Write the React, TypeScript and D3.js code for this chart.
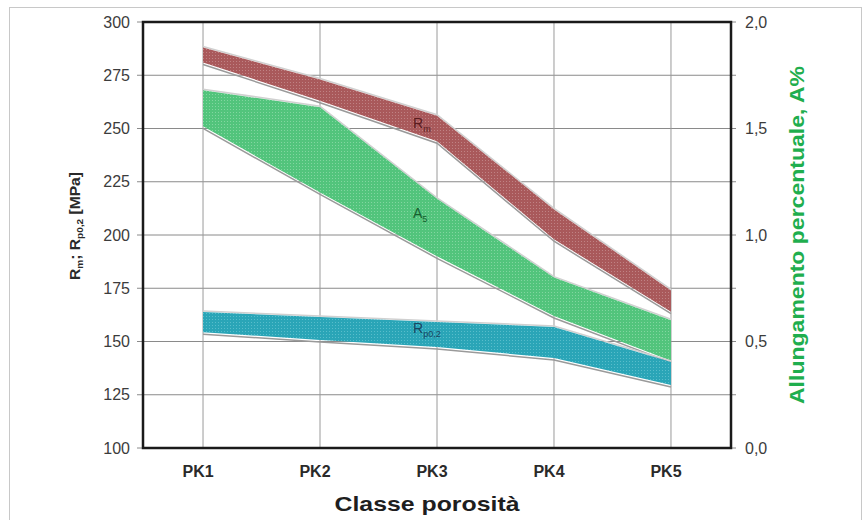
import { useEffect, useRef } from 'react'
import * as d3 from 'd3'

// porosity classes
const categories = ['PK1', 'PK2', 'PK3', 'PK4', 'PK5']

// Rm band [MPa]
const rmUpper = [288, 273, 256, 212, 174]
const rmLower = [281, 263, 244, 198, 164]

// Rp0,2 band [MPa]
const rpUpper = [163.8, 161.5, 159.2, 156.8, 140.4]
const rpLower = [154.4, 150.7, 147.4, 142.3, 129.6]

// A5 band [%] (right axis)
const aUpper = [1.68, 1.6, 1.17, 0.8, 0.6]
const aLower = [1.51, 1.2, 0.9, 0.62, 0.41]

const leftTicks = [100, 125, 150, 175, 200, 225, 250, 275, 300]
const rightTicks = [0, 0.5, 1.0, 1.5, 2.0]

const W = 863
const H = 520

const App = () => {
  const ref = useRef<SVGSVGElement>(null)

  useEffect(() => {
    if (!ref.current) return
    const root = d3.select(ref.current)
    root.selectAll('*').remove()

    const margin = { top: 22, right: 132, bottom: 72, left: 143 }
    const width = W - margin.left - margin.right
    const height = H - margin.top - margin.bottom

    // outer frame
    root.append('rect')
      .attr('x', 9.5).attr('y', 7.5)
      .attr('width', W - 11).attr('height', H)
      .attr('fill', 'white')
      .attr('stroke', '#c8c8c8')

    // dotted textures
    const defs = root.append('defs')
    const makePattern = (id: string, base: string, dot: string) => {
      const p = defs.append('pattern')
        .attr('id', id)
        .attr('width', 3).attr('height', 3)
        .attr('patternUnits', 'userSpaceOnUse')
      p.append('rect').attr('width', 3).attr('height', 3).attr('fill', base)
      p.append('rect').attr('width', 1).attr('height', 1).attr('fill', dot)
    }
    makePattern('pat-rm', '#a9595b', '#c08284')
    makePattern('pat-a', '#52c47c', '#82d6a0')
    makePattern('pat-rp', '#2aa5b7', '#58bdcb')

    const g = root.append('g')
      .attr('transform', `translate(${margin.left},${margin.top})`)

    const x = d3.scalePoint()
      .domain(categories)
      .range([0, width])
      .padding(0.513)

    const y = d3.scaleLinear().domain([100, 300]).range([height, 0])
    const yA = d3.scaleLinear().domain([0, 2]).range([height, 0])

    // horizontal grid + tick marks on both sides
    g.append('g')
      .selectAll('line')
      .data(leftTicks)
      .enter()
      .append('line')
      .attr('x1', -6).attr('x2', width + 5)
      .attr('y1', d => y(d)).attr('y2', d => y(d))
      .attr('stroke', '#8a8a8a')
      .attr('stroke-width', 1)

    // vertical grid
    g.append('g')
      .selectAll('line')
      .data(categories)
      .enter()
      .append('line')
      .attr('x1', d => x(d)!).attr('x2', d => x(d)!)
      .attr('y1', 0).attr('y2', height)
      .attr('stroke', '#9a9a9a')
      .attr('stroke-width', 1)

    const drawBand = (upper: number[], lower: number[], scale: d3.ScaleLinear<number, number>, pat: string) => {
      const pts = categories.map((c, i) => ({ c, hi: upper[i], lo: lower[i] }))
      const area = d3.area<typeof pts[0]>()
        .x(d => x(d.c)!)
        .y0(d => scale(d.lo))
        .y1(d => scale(d.hi))
      const lowLine = d3.line<typeof pts[0]>()
        .x(d => x(d.c)!)
        .y(d => scale(d.lo) + 2)
      const hiLine = d3.line<typeof pts[0]>()
        .x(d => x(d.c)!)
        .y(d => scale(d.hi) - 1)
      g.append('path').datum(pts).attr('d', hiLine)
        .attr('fill', 'none').attr('stroke', '#d0d0d0').attr('stroke-width', 1.5)
      g.append('path').datum(pts).attr('d', lowLine)
        .attr('fill', 'none').attr('stroke', '#9a9a9a').attr('stroke-width', 1.5)
      g.append('path').datum(pts).attr('d', area)
        .attr('fill', `url(#${pat})`)
    }

    drawBand(rmUpper, rmLower, y, 'pat-rm')
    drawBand(aUpper, aLower, yA, 'pat-a')
    drawBand(rpUpper, rpLower, y, 'pat-rp')

    // plot frame
    g.append('rect')
      .attr('width', width).attr('height', height)
      .attr('fill', 'none')
      .attr('stroke', '#1a1a1a')
      .attr('stroke-width', 2.5)

    const font = 'Arial, "Liberation Sans", sans-serif'

    // band labels
    const bandLabel = (txt: string, sub: string, cx: number, cy: number, color: string) => {
      const t = g.append('text')
        .attr('x', cx).attr('y', cy)
        .attr('fill', color)
        .style('font-family', font)
        .style('font-size', '14px')
      t.append('tspan').text(txt)
      t.append('tspan').attr('dy', 4).style('font-size', '9px').text(sub)
    }
    bandLabel('R', 'm', x('PK3')! - 24, y(252.6) + 5, '#5a1c1e')
    bandLabel('A', '5', x('PK3')! - 24, y(210.3) + 5, '#17602f')
    bandLabel('R', 'p0,2', x('PK3')! - 24, y(156.3) + 5, '#1a4660')

    // left tick labels
    g.append('g')
      .selectAll('text')
      .data(leftTicks)
      .enter()
      .append('text')
      .attr('x', -13).attr('y', d => y(d) + 5.5)
      .attr('text-anchor', 'end')
      .attr('fill', '#3c3c3c')
      .style('font-family', font)
      .style('font-size', '16px')
      .text(d => d)

    // right tick labels
    g.append('g')
      .selectAll('text')
      .data(rightTicks)
      .enter()
      .append('text')
      .attr('x', width + 14).attr('y', d => yA(d) + 5.5)
      .attr('fill', '#3c3c3c')
      .style('font-family', font)
      .style('font-size', '16px')
      .text(d => d3.format('.1f')(d).replace('.', ','))

    // x tick labels
    g.append('g')
      .selectAll('text')
      .data(categories)
      .enter()
      .append('text')
      .attr('x', d => x(d)! - 5).attr('y', height + 29)
      .attr('text-anchor', 'middle')
      .attr('fill', '#2a2a2a')
      .style('font-family', font)
      .style('font-weight', 'bold')
      .style('font-size', '16px')
      .text(d => d)

    // x title
    g.append('text')
      .attr('x', x('PK3')! - 10).attr('y', height + 63)
      .attr('text-anchor', 'middle')
      .attr('fill', '#1e1e1e')
      .attr('textLength', 185)
      .attr('lengthAdjust', 'spacingAndGlyphs')
      .style('font-family', font)
      .style('font-weight', 'bold')
      .style('font-size', '21px')
      .text('Classe porosità')

    // left title
    const lt = g.append('text')
      .attr('transform', `translate(-63,${height / 2 - 9}) rotate(-90)`)
      .attr('text-anchor', 'middle')
      .attr('fill', '#2a2a2a')
      .attr('textLength', 108)
      .attr('lengthAdjust', 'spacingAndGlyphs')
      .style('font-family', font)
      .style('font-weight', 'bold')
      .style('font-size', '14px')
    lt.append('tspan').text('R')
    lt.append('tspan').attr('dy', 3).style('font-size', '9px').text('m')
    lt.append('tspan').attr('dy', -3).text('; R')
    lt.append('tspan').attr('dy', 3).style('font-size', '9px').text('p0,2')
    lt.append('tspan').attr('dy', -3).text(' [MPa]')

    // right title
    g.append('text')
      .attr('transform', `translate(${width + 73},${height / 2}) rotate(-90)`)
      .attr('text-anchor', 'middle')
      .attr('fill', '#1fae4e')
      .attr('textLength', 338)
      .attr('lengthAdjust', 'spacingAndGlyphs')
      .style('font-family', font)
      .style('font-weight', 'bold')
      .style('font-size', '21px')
      .text('Allungamento  percentuale, A%')
  }, [])

  return (
    <svg
      ref={ref}
      width={W}
      height={H}
      style={{ position: 'absolute', left: 0, top: 0, background: 'white' }}
    />
  )
}

export default App
